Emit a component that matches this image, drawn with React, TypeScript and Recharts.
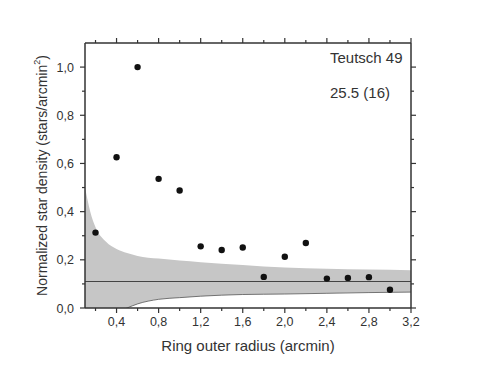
import {
  ComposedChart,
  Area,
  Line,
  Scatter,
  XAxis,
  YAxis,
  ReferenceLine,
} from "recharts";

// measured ring densities
const radius = [0.2, 0.4, 0.6, 0.8, 1.0, 1.2, 1.4, 1.6, 1.8, 2.0, 2.2, 2.4, 2.6, 2.8, 3.0];
const density = [0.313, 0.626, 1.0, 0.536, 0.488, 0.256, 0.241, 0.251, 0.129, 0.213, 0.27, 0.122, 0.125, 0.128, 0.076];

// background level and its uncertainty band
const background = 0.11;
const bandX = [0.1, 0.15, 0.2, 0.3, 0.4, 0.5, 0.6, 0.8, 1.0, 1.2, 1.6, 2.0, 2.4, 2.8, 3.2];
const bandUpper = [0.5, 0.4, 0.335, 0.275, 0.245, 0.228, 0.216, 0.205, 0.197, 0.19, 0.179, 0.168, 0.163, 0.16, 0.157];
const bandLower = [-0.28, -0.17, -0.11, -0.05, -0.02, 0.0, 0.017, 0.036, 0.043, 0.049, 0.056, 0.058, 0.061, 0.064, 0.066];

const xTicks = [0.2, 0.4, 0.6, 0.8, 1.0, 1.2, 1.4, 1.6, 1.8, 2.0, 2.2, 2.4, 2.6, 2.8, 3.0, 3.2];
const yTicks = [0, 0.1, 0.2, 0.3, 0.4, 0.5, 0.6, 0.7, 0.8, 0.9, 1.0];

const band = bandX.map((x, i) => ({ x, lower: bandLower[i], range: [bandLower[i], bandUpper[i]] }));
const points = radius.map((x, i) => ({ x, y: density[i] }));

const AXIS = "#333";
const FONT = "'Liberation Sans', Arial, sans-serif";
const fmt = (v: number) => v.toFixed(1).replace(".", ",");
const xMajor = (v: number) => Math.round(v * 10) % 4 === 0;
const yMajor = (v: number) => Math.round(v * 10) % 2 === 0;

const BottomTick = ({ x, y, payload }: any) => {
  const major = xMajor(payload.value);
  return (
    <g>
      <line x1={x} x2={x} y1={y} y2={y + (major ? 5 : 3)} stroke={AXIS} strokeWidth={1.2} />
      {major && (
        <text x={x} y={y + 18} textAnchor="middle" fontSize={12.5} fill="#333" fontFamily={FONT}>
          {fmt(payload.value)}
        </text>
      )}
    </g>
  );
};

const TopTick = ({ x, y, payload }: any) => {
  const major = xMajor(payload.value);
  return <line x1={x} x2={x} y1={y} y2={y - (major ? 5 : 3)} stroke={AXIS} strokeWidth={1.2} />;
};

const LeftTick = ({ x, y, payload }: any) => {
  const major = yMajor(payload.value);
  return (
    <g>
      <line x1={x} x2={x - (major ? 5 : 3)} y1={y} y2={y} stroke={AXIS} strokeWidth={1.2} />
      {major && (
        <text x={x - 11} y={y + 4.5} textAnchor="end" fontSize={12.5} fill="#333" fontFamily={FONT}>
          {fmt(payload.value)}
        </text>
      )}
    </g>
  );
};

const RightTick = ({ x, y, payload }: any) => {
  const major = yMajor(payload.value);
  return <line x1={x} x2={x + (major ? 5 : 3)} y1={y} y2={y} stroke={AXIS} strokeWidth={1.2} />;
};

const Dot = (props: any) => <circle cx={props.cx} cy={props.cy} r={3.2} fill="#111" />;

export default function App() {
  return (
    <div style={{ position: "absolute", left: 0, top: 0, background: "#fff" }}>
      <ComposedChart
        width={477}
        height={369}
        data={band}
        margin={{ top: 38, right: 61, bottom: 0, left: 0 }}
      >
        <XAxis
          xAxisId="b"
          dataKey="x"
          type="number"
          domain={[0.1, 3.2]}
          ticks={xTicks}
          interval={0}
          allowDataOverflow
          height={61}
          tickSize={0}
          tickMargin={0}
          tickLine={false}
          axisLine={{ stroke: AXIS, strokeWidth: 1.5 }}
          tick={<BottomTick />}
        />
        <XAxis
          xAxisId="t"
          dataKey="x"
          type="number"
          orientation="top"
          domain={[0.1, 3.2]}
          ticks={xTicks}
          interval={0}
          allowDataOverflow
          height={5}
          tickSize={0}
          tickMargin={0}
          tickLine={false}
          axisLine={{ stroke: AXIS, strokeWidth: 1.5 }}
          tick={<TopTick />}
        />
        <YAxis
          yAxisId="l"
          type="number"
          domain={[0, 1.1]}
          ticks={yTicks}
          interval={0}
          allowDataOverflow
          width={85}
          tickSize={0}
          tickMargin={0}
          tickLine={false}
          axisLine={{ stroke: AXIS, strokeWidth: 1.5 }}
          tick={<LeftTick />}
        />
        <YAxis
          yAxisId="r"
          orientation="right"
          type="number"
          domain={[0, 1.1]}
          ticks={yTicks}
          interval={0}
          allowDataOverflow
          width={5}
          tickSize={0}
          tickMargin={0}
          tickLine={false}
          axisLine={{ stroke: AXIS, strokeWidth: 1.5 }}
          tick={<RightTick />}
        />
        <Area
          xAxisId="b"
          yAxisId="l"
          dataKey="range"
          type="monotone"
          fill="#c6c6c6"
          fillOpacity={1}
          stroke="none"
          isAnimationActive={false}
          activeDot={false}
        />
        <Line
          xAxisId="b"
          yAxisId="l"
          dataKey="lower"
          type="monotone"
          stroke="#555"
          strokeWidth={0.8}
          dot={false}
          activeDot={false}
          isAnimationActive={false}
        />
        <ReferenceLine xAxisId="b" yAxisId="l" y={background} stroke="#444" strokeWidth={1} />
        <Scatter
          xAxisId="b"
          yAxisId="l"
          data={points}
          dataKey="y"
          shape={<Dot />}
          isAnimationActive={false}
        />
        <text
          x={43}
          y={175.5}
          transform="rotate(-90 43 175.5)"
          textAnchor="middle"
          dominantBaseline="middle"
          fontSize={14}
          fill="#333"
          fontFamily={FONT}
        >
          Normalized star density (stars/arcmin
          <tspan fontSize={9} dy={-5}>2</tspan>
          <tspan dy={5}>)</tspan>
        </text>
        <text x={248} y={351} textAnchor="middle" fontSize={15} fill="#333" fontFamily={FONT}>
          Ring outer radius (arcmin)
        </text>
        <text x={330} y={63} fontSize={15} fill="#333" fontFamily={FONT}>
          Teutsch 49
        </text>
        <text x={330} y={98} fontSize={15} fill="#333" fontFamily={FONT}>
          25.5 (16)
        </text>
      </ComposedChart>
    </div>
  );
}
